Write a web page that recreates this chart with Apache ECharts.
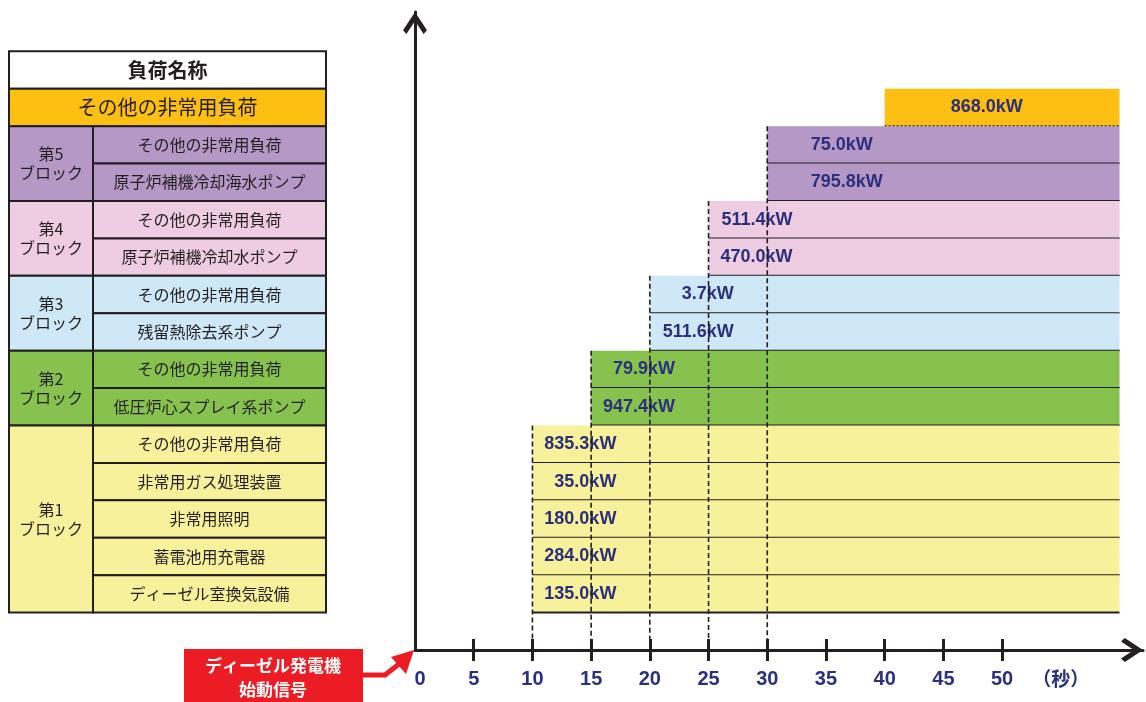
<!DOCTYPE html>
<html><head><meta charset="utf-8">
<script src="https://cdn.jsdelivr.net/npm/echarts@6/dist/echarts.min.js"></script>
<style>html,body{margin:0;padding:0;background:#fff}#c{width:1146px;height:702px}</style>
</head><body><div id="c"></div>
<script>
// ---------- data ----------
const headerTitle = '負荷名称';
const topLoadName = 'その他の非常用負荷';
const topLoadStart = 40;
const blockNames = ['第5\nブロック', '第4\nブロック', '第3\nブロック', '第2\nブロック', '第1\nブロック'];
const blockRowCounts = [2, 2, 2, 2, 5];
const blockStartTimes = [30, 25, 20, 15, 10];
const itemNames = [
  'その他の非常用負荷', '原子炉補機冷却海水ポンプ',
  'その他の非常用負荷', '原子炉補機冷却水ポンプ',
  'その他の非常用負荷', '残留熱除去系ポンプ',
  'その他の非常用負荷', '低圧炉心スプレイ系ポンプ',
  'その他の非常用負荷', '非常用ガス処理装置', '非常用照明', '蓄電池用充電器', 'ディーゼル室換気設備'
];
// top row (その他の非常用負荷, orange) first, then item rows top to bottom
const loadKW = [868.0, 75.0, 795.8, 511.4, 470.0, 3.7, 511.6, 79.9, 947.4, 835.3, 35.0, 180.0, 284.0, 135.0];
const endTime = 60;
const tickValues = [5, 10, 15, 20, 25, 30, 35, 40, 45, 50];
const tickLabelValues = [0, 5, 10, 15, 20, 25, 30, 35, 40, 45, 50, 55];
const unitLabel = '（秒）';
const signalText = 'ディーゼル発電機\n始動信号';

// ---------- styles ----------
const topColor = '#FCBF12';
const blockColors = ['#B698C6', '#EECDE2', '#CEE8F8', '#87C24E', '#F8F19B'];
const ink = '#231F20';
const navy = '#2B2F7C';
const red = '#EC1C24';
const cjk = '"Noto Sans CJK JP", sans-serif';
const latin = '"Liberation Sans", Arial, sans-serif';
const colSplit = 0.265;

// ---------- derived rows ----------
const nRows = 1 + itemNames.length;
const rowBlock = [-1];
blockRowCounts.forEach((c, b) => { for (let k = 0; k < c; k++) rowBlock.push(b); });
const rowTop = i => 15 - i;
const rowStart = i => rowBlock[i] < 0 ? topLoadStart : blockStartTimes[rowBlock[i]];
const rowColor = i => rowBlock[i] < 0 ? topColor : blockColors[rowBlock[i]];

const barData = [];
for (let i = 0; i < nRows; i++) barData.push([rowStart(i), endTime, rowTop(i), rowTop(i) - 1, loadKW[i]]);

const blockFirstRow = [];
{ let r = 1; blockRowCounts.forEach(c => { blockFirstRow.push(r); r += c; }); }
const dashData = blockStartTimes.map((t, b) => [t, rowTop(blockFirstRow[b])]);

// table cells
const cells = [];
cells.push({ x0: 0, x1: 1, y0: 15, y1: 16, fill: '#ffffff', text: headerTitle, font: 'bold 20px ' + cjk });
cells.push({ x0: 0, x1: 1, y0: 14, y1: 15, fill: topColor, text: topLoadName, font: '20px ' + cjk });
blockRowCounts.forEach((c, b) => {
  const top = rowTop(blockFirstRow[b]);
  cells.push({ x0: 0, x1: colSplit, y0: top - c, y1: top, fill: blockColors[b], text: blockNames[b], font: '16px ' + cjk });
});
itemNames.forEach((n, k) => {
  const i = k + 1;
  cells.push({ x0: colSplit, x1: 1, y0: rowTop(i) - 1, y1: rowTop(i), fill: rowColor(i), text: n, font: '16px ' + cjk });
});
const cellData = cells.map(c => [c.x0, c.x1, c.y0, c.y1]);

// label placement rules per block style
function labelPlace(i) {
  const s = rowStart(i);
  if (rowBlock[i] < 0) return { t: s + 8.7, align: 'center' };
  if (rowBlock[i] === 0) return { t: s + 3.7, align: 'left' };
  return { t: s + 7.15, align: 'right' };
}

const chevron = 'path://M50,0 L100,76 L86,92 L50,38 L14,92 L0,76 Z';
const gridBox = { left: 415, right: 3, top: 12, bottom: 52 };

const chart = echarts.init(document.getElementById('c'));
chart.setOption({
  animation: false,
  grid: [
    Object.assign({}, gridBox),
    Object.assign({}, gridBox),
    { left: 9, right: 820, top: 12, bottom: 52 }
  ],
  xAxis: [
    {
      gridIndex: 0, type: 'value', min: 0, max: 62,
      axisLine: { show: true, lineStyle: { color: ink, width: 3 }, symbol: ['none', chevron], symbolSize: [24, 22], symbolOffset: [0, -11] },
      axisTick: { show: true, inside: false, length: 11, lineStyle: { color: ink, width: 3 }, customValues: tickValues },
      axisLabel: {
        show: true, margin: 19, customValues: tickLabelValues,
        color: navy, fontFamily: latin, fontWeight: 'bold', fontSize: 20,
        formatter: v => v === 55 ? '{u|' + unitLabel + '}' : (v === 0 ? '{z|0}' : String(v)),
        rich: {
          u: { fontFamily: cjk, fontWeight: 'bold', fontSize: 19, color: navy },
          z: { fontFamily: latin, fontWeight: 'bold', fontSize: 20, color: navy, padding: [0, 0, 0, 10] }
        }
      },
      splitLine: { show: false }
    },
    {
      gridIndex: 1, type: 'value', min: 0, max: 62,
      axisLine: { show: false },
      axisTick: { show: true, inside: true, length: 11, lineStyle: { color: ink, width: 3 }, customValues: tickValues },
      axisLabel: { show: false },
      splitLine: { show: false }
    },
    { gridIndex: 2, type: 'value', min: 0, max: 1, show: false }
  ],
  yAxis: [
    {
      gridIndex: 0, type: 'value', min: 0, max: 17.05,
      axisLine: { show: true, lineStyle: { color: ink, width: 3 }, symbol: ['none', chevron], symbolSize: [24, 22], symbolOffset: [0, -11] },
      axisTick: { show: false }, axisLabel: { show: false }, splitLine: { show: false }
    },
    { gridIndex: 1, type: 'value', min: 0, max: 17.05, show: false },
    { gridIndex: 2, type: 'value', min: 0, max: 17.05, show: false }
  ],
  series: [
    {
      type: 'custom', xAxisIndex: 0, yAxisIndex: 0, z: 2,
      data: barData,
      renderItem: function (params, api) {
        const i = params.dataIndex;
        const p0 = api.coord([api.value(0), api.value(2)]);
        const p1 = api.coord([api.value(1), api.value(3)]);
        const ly = (p0[1] + p1[1]) / 2;
        const lp = labelPlace(i);
        const lx = api.coord([lp.t, api.value(2)])[0];
        return {
          type: 'group',
          children: [
            { type: 'rect', shape: { x: p0[0], y: p0[1], width: p1[0] - p0[0], height: p1[1] - p0[1] }, style: { fill: rowColor(i) } },
            { type: 'line', shape: { x1: p0[0], y1: p1[1], x2: p1[0], y2: p1[1] }, style: { stroke: ink, lineWidth: 2, lineDash: i === 0 ? [2, 2] : null } },
            { type: 'text', x: lx, y: ly, z2: 20, style: { text: api.value(4).toFixed(1) + 'kW', align: lp.align, verticalAlign: 'middle', font: 'bold 18px ' + latin, fill: navy } }
          ]
        };
      }
    },
    {
      type: 'custom', xAxisIndex: 0, yAxisIndex: 0, z: 3,
      data: dashData,
      renderItem: function (params, api) {
        const a = api.coord([api.value(0), api.value(1)]);
        const b = api.coord([api.value(0), 0]);
        return { type: 'line', shape: { x1: a[0], y1: a[1], x2: b[0], y2: b[1] }, style: { stroke: ink, lineWidth: 1.6, lineDash: [5, 3] } };
      }
    },
    {
      type: 'custom', xAxisIndex: 2, yAxisIndex: 2, z: 2,
      data: cellData,
      renderItem: function (params, api) {
        const c = cells[params.dataIndex];
        const p0 = api.coord([api.value(0), api.value(3)]);
        const p1 = api.coord([api.value(1), api.value(2)]);
        return {
          type: 'group',
          children: [
            { type: 'rect', shape: { x: p0[0], y: p0[1], width: p1[0] - p0[0], height: p1[1] - p0[1] }, style: { fill: c.fill, stroke: ink, lineWidth: 2 } },
            { type: 'text', x: (p0[0] + p1[0]) / 2, y: (p0[1] + p1[1]) / 2, style: { text: c.text, align: 'center', verticalAlign: 'middle', font: c.font, fill: ink, lineHeight: 19 } }
          ]
        };
      }
    }
  ],
  graphic: [
    { type: 'rect', z: 50, shape: { x: 184, y: 649, width: 179, height: 60 }, style: { fill: red } },
    { type: 'text', z: 51, x: 273, y: 678, style: { text: signalText, align: 'center', verticalAlign: 'middle', font: 'bold 17px ' + cjk, fill: '#ffffff', lineHeight: 24 } },
    { type: 'polyline', z: 50, shape: { points: [[362, 675], [385, 675], [399, 664]] }, style: { stroke: red, lineWidth: 5, fill: null, lineJoin: 'miter' } },
    { type: 'polygon', z: 50, shape: { points: [[414, 650], [391, 657], [406, 674]] }, style: { fill: red } }
  ]
});
</script></body></html>
